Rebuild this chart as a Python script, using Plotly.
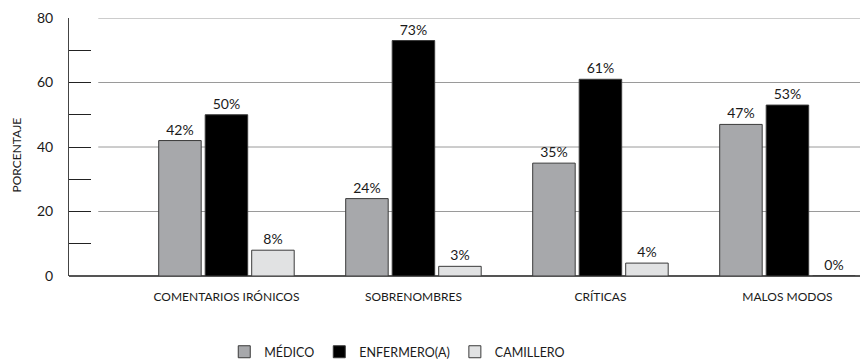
import plotly.graph_objects as go

categorias = ["COMENTARIOS IRÓNICOS", "SOBRENOMBRES", "CRÍTICAS", "MALOS MODOS"]
medico = [42, 24, 35, 47]
enfermero = [50, 73, 61, 53]
camillero = [8, 3, 4, 0]

series = [
    ("MÉDICO", medico, "#A7A8AB"),
    ("ENFERMERO(A)", enfermero, "#000000"),
    ("CAMILLERO", camillero, "#E1E2E3"),
]

y_ticks = [0, 10, 20, 30, 40, 50, 60, 70, 80]
y_labels = ["0", "", "20", "", "40", "", "60", "", "80"]
grid_vals = [20, 40, 60, 80]

FONT = "Lato"

fig = go.Figure()
for nombre, valores, color in series:
    fig.add_trace(go.Bar(
        x=categorias,
        y=valores,
        name=nombre,
        marker=dict(color=color, line=dict(color="#3a3a3a", width=1)),
        text=[f"{v}%" for v in valores],
        textposition="outside",
        textfont=dict(family=FONT, size=14, color="#1a1a1a"),
        cliponaxis=False,
    ))

# horizontal guide lines, starting a little to the right of the y axis
for g in grid_vals:
    fig.add_shape(type="line", xref="paper", yref="y",
                  x0=0.037, x1=1, y0=g, y1=g,
                  line=dict(color="#9a9a9a", width=1), layer="below")

fig.add_annotation(text="PORCENTAJE", xref="paper", yref="paper",
                   x=-0.066, y=0.47, xanchor="center", yanchor="middle",
                   textangle=-90, showarrow=False,
                   font=dict(family=FONT, size=12, color="#1a1a1a"))

fig.update_layout(
    width=860, height=363,
    margin=dict(l=69, r=0, t=18, b=87, autoexpand=False),
    paper_bgcolor="white", plot_bgcolor="white",
    barmode="group", bargap=0.254, bargroupgap=0.086,
    font=dict(family=FONT, color="#1a1a1a"),
    showlegend=True,
    legend=dict(orientation="h", xanchor="center", x=0.415,
                yref="container", yanchor="middle", y=0.03,
                font=dict(family=FONT, size=12.5, color="#1a1a1a"),
                itemwidth=30, traceorder="normal"),
    xaxis=dict(range=[-0.842, 3.388], showgrid=False, showline=False, zeroline=False,
               ticks="", tickfont=dict(family=FONT, size=12, color="#1a1a1a"),
               ticklabelstandoff=12),
    yaxis=dict(range=[0, 80], tickmode="array", tickvals=y_ticks, ticktext=y_labels,
               ticks="inside", ticklen=22, tickcolor="#222", tickwidth=1,
               showline=True, linecolor="#444", linewidth=1,
               showgrid=False, zeroline=True, zerolinecolor="#555", zerolinewidth=1.5,
               tickfont=dict(family=FONT, size=14, color="#1a1a1a"),
               ticklabelstandoff=12),
)

fig.write_html("out.html")
